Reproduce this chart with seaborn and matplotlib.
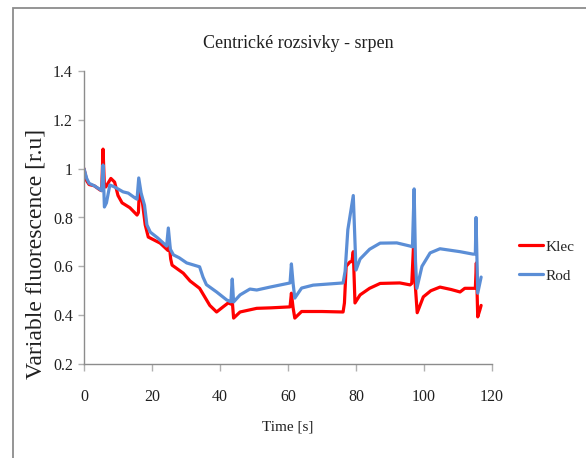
import numpy as np
import pandas as pd
import matplotlib
matplotlib.use("Agg")
import matplotlib.pyplot as plt
import seaborn as sns
from matplotlib.patches import Rectangle

# ------------------------------------------------------
# Data (time [s], variable fluorescence [r.u])
# ------------------------------------------------------
klec_t = [0, 0.8, 1.5, 3, 4.7, 5.2, 5.6, 6.0, 6.4, 7.9, 9, 10, 11.2, 13.5, 15.6, 16.0,
          16.3, 17.2, 18.0, 18.9, 22.4, 24.7, 25.1, 25.5, 25.9, 29.2, 31.2, 34, 37, 39,
          41, 42.4, 43.3, 43.6, 44.0, 45.9, 50.8, 55, 60.6, 61.0, 61.5, 62.0, 64, 70,
          76.2, 76.6, 77.1, 78.2, 78.8, 79.2, 79.7, 81.2, 84, 87.1, 92.9, 95.9, 96.4,
          97.0, 97.3, 98.0, 99.8, 102, 104.7, 108, 110.6, 112, 114.4, 115.1, 115.4,
          115.8, 116.4, 116.8]
klec_v = [1.0, 0.95, 0.935, 0.93, 0.913, 0.91, 1.08, 0.93, 0.925, 0.96, 0.945, 0.89,
          0.86, 0.84, 0.81, 0.82, 0.92, 0.86, 0.77, 0.72, 0.695, 0.665, 0.685, 0.63,
          0.605, 0.572, 0.54, 0.51, 0.44, 0.413, 0.435, 0.45, 0.445, 0.46, 0.388, 0.413,
          0.428, 0.43, 0.434, 0.49, 0.43, 0.388, 0.415, 0.415, 0.413, 0.45, 0.6, 0.618,
          0.62, 0.66, 0.45, 0.483, 0.51, 0.53, 0.532, 0.524, 0.53, 0.708, 0.55, 0.41,
          0.475, 0.5, 0.515, 0.505, 0.495, 0.51, 0.51, 0.51, 0.614, 0.393, 0.42, 0.44]

rod_t = [0, 0.8, 1.5, 3, 4.7, 5.2, 5.6, 6.0, 6.6, 7.6, 9, 11.5, 13, 15, 15.6, 16.1,
         16.8, 17.8, 18.5, 19.5, 21.7, 24.3, 24.8, 25.4, 26.3, 28, 30.2, 34, 35, 36, 39,
         42, 43.2, 43.6, 44.0, 45.9, 48.8, 50.8, 54.7, 60.6, 61.0, 61.5, 62.0, 64, 67.4,
         76.2, 76.8, 77.6, 79.2, 80.0, 81.2, 84, 87.1, 92, 95.9, 96.6, 97.1, 97.5, 97.9,
         99.4, 101.8, 104.7, 110.6, 114.4, 115.1, 115.3, 115.8, 116.8]
rod_v = [1.0, 0.96, 0.94, 0.93, 0.915, 0.91, 1.015, 0.843, 0.86, 0.933, 0.925, 0.905,
         0.9, 0.88, 0.875, 0.962, 0.9, 0.85, 0.77, 0.74, 0.716, 0.683, 0.757, 0.67,
         0.647, 0.635, 0.614, 0.598, 0.556, 0.525, 0.495, 0.462, 0.455, 0.548, 0.454,
         0.483, 0.507, 0.503, 0.515, 0.532, 0.61, 0.53, 0.47, 0.511, 0.523, 0.532, 0.58,
         0.75, 0.89, 0.585, 0.63, 0.67, 0.695, 0.696, 0.683, 0.68, 0.917, 0.62, 0.51,
         0.6, 0.655, 0.672, 0.66, 0.65, 0.65, 0.8, 0.49, 0.556]

series_names = ["Klec", "Rod"]
colors = {"Klec": "#FF0000", "Rod": "#5B8ED6"}

df = pd.concat([
    pd.DataFrame({"time": klec_t, "value": klec_v, "series": "Klec"}),
    pd.DataFrame({"time": rod_t, "value": rod_v, "series": "Rod"}),
], ignore_index=True)

# ------------------------------------------------------
# Style
# ------------------------------------------------------
sns.set_theme(style="white")
plt.rcParams["font.family"] = ["Liberation Serif", "DejaVu Serif"]

fig = plt.figure(figsize=(5.86, 4.58), dpi=100)
ax = fig.add_axes([84 / 586, 94 / 458, 408 / 586, 293 / 458])

sns.lineplot(data=df, x="time", y="value", hue="series", hue_order=series_names,
             palette=colors, estimator=None, sort=False, linewidth=2.3,
             legend=False, ax=ax)

ax.set_xlim(0, 120)
ax.set_ylim(0.2, 1.4)
ax.set_xticks(np.arange(0, 121, 20))
ax.set_yticks(np.arange(0.2, 1.41, 0.2))
ax.set_yticklabels(["0.2", "0.4", "0.6", "0.8", "1", "1.2", "1.4"])

for side in ["top", "right"]:
    ax.spines[side].set_visible(False)
for side in ["left", "bottom"]:
    ax.spines[side].set_color("#8C8C8C")
    ax.spines[side].set_linewidth(1.0)

ax.tick_params(axis="x", direction="out", length=5, width=1, color="#B0B0B0",
               pad=13, labelsize=11.5, labelcolor="#202020", bottom=True)
ax.tick_params(axis="y", direction="out", length=4, width=1, color="#B0B0B0",
               pad=4, labelsize=11.5, labelcolor="#202020", left=True)

ax.set_xlabel("Time [s]", fontsize=11, color="#202020")
ax.xaxis.set_label_coords(0.5, -0.215)
ax.xaxis.label.set_verticalalignment("center")

ax.set_ylabel("Variable fluorescence [r.u]", fontsize=17, color="#202020")
ax.yaxis.set_label_coords(-0.118, 0.375)
ax.yaxis.label.set_verticalalignment("center")

fig.text(298 / 586, 415 / 458, "Centrické rozsivky - srpen", ha="center",
         va="center", fontsize=13, color="#202020")

leg = ax.legend(ax.get_lines()[:2], series_names, loc="upper left",
                bbox_to_anchor=(519 / 586, 218 / 458),
                bbox_transform=fig.transFigure, frameon=False, fontsize=11,
                handlelength=1.6, handletextpad=0.15, labelspacing=1.0,
                borderpad=0, borderaxespad=0)

# outer chart border
fig.patches.append(Rectangle((13 / 586, -0.02), 1.0, 0.9825 + 0.02,
                             transform=fig.transFigure, fill=False,
                             edgecolor="#8C8C8C", linewidth=1.3))

fig.savefig("out.png", dpi=100)
